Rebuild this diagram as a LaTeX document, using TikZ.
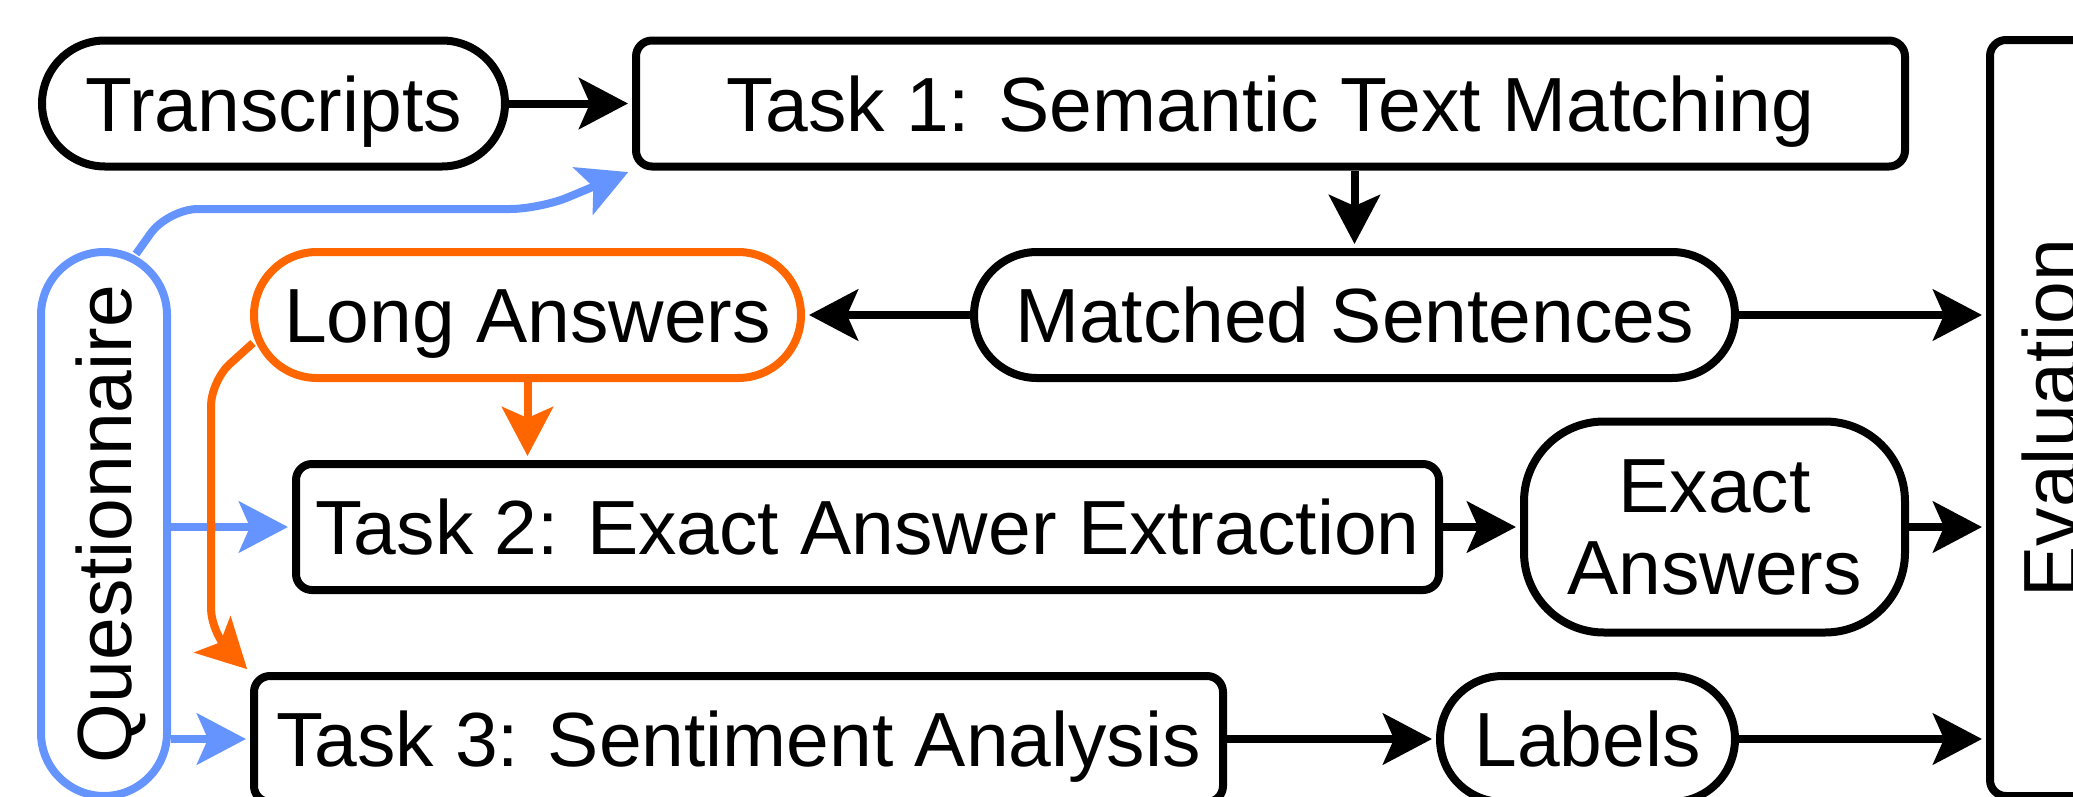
\documentclass[tikz,border=0pt]{standalone}
\usepackage{fontspec}
\setmainfont{Liberation Sans}
\usepackage{xcolor}
\usepackage{tikz}
\usetikzlibrary{arrows.meta,calc,positioning}
\definecolor{qblue}{RGB}{102,148,255}
\definecolor{lorange}{RGB}{255,102,0}
\newcommand{\figfont}{\fontsize{76.8}{82}\selectfont}
\tikzset{
  box/.style={draw,line width=8pt,inner sep=0pt,minimum height=126pt,text height=55pt,text depth=0pt},
  taskbox/.style={box,rounded corners=16pt},
  pill/.style={box,rounded corners=63pt},
  flow/.style={->,line width=8pt,shorten >=4pt},
}

\begin{document}
\begin{tikzpicture}[x=1pt,y=-1pt,font=\figfont,>={Stealth[length=49pt,width=51pt,inset=11pt]}]
\useasboundingbox (0,0) rectangle (2073,796);
\clip (0,0) rectangle (2073,796);
% inputs
\node[pill,minimum width=463pt] (trans) at (273.5,103.5) {Transcripts};
\node[pill,draw=qblue,rotate=90,minimum width=544pt] (quest) at (104,524) {Questionnaire};
% the three tasks and the evaluation
\node[taskbox,minimum width=1269pt] (task1) at (1270.5,103.5) {Task 1: Semantic Text Matching};
\node[taskbox,minimum width=1143pt] (task2) at (867.5,527) {Task 2: Exact Answer Extraction};
\node[taskbox,minimum width=969pt] (task3) at (738.5,739) {Task 3: Sentiment Analysis};
\node[taskbox,rotate=90,minimum width=756pt,minimum height=119pt] (eval) at (2049.5,418) {Evaluation};
% outputs
\node[pill,minimum width=761pt] (matched) at (1354.5,315) {Matched Sentences};
\node[pill,draw=lorange,minimum width=547pt] (long) at (527.5,315) {Long Answers};
\node[draw,line width=8pt,rounded corners=80pt,inner sep=0pt,align=center,minimum width=381pt,minimum height=211pt] (exact) at (1714.5,527) {Exact\\Answers};
\node[pill,minimum width=295pt] (labels) at (1587.5,739) {Labels};
% black flow
\draw[flow] (trans) -- (task1);
\draw[flow] (matched.north |- task1.south) -- (matched);
\draw[flow] (matched) -- (long);
\draw[flow] (matched) -- (matched -| eval.north);
\draw[flow] (task2.east) -- (task2.east -| exact.west);
\draw[flow] (exact) -- (exact -| eval.north);
\draw[flow] (task3) -- (labels);
\draw[flow] (labels) -- (labels -| eval.north);
% questionnaire feeds every task
\draw[flow,qblue] (task2.west -| quest.south) -- (task2.west);
\draw[flow,qblue] (task3.west -| quest.south) -- (task3.west);
\draw[flow,qblue,rounded corners=30pt] ([xshift=32pt,yshift=-6pt]quest.east) -- (168,209) -- (540,209) -- (task1.south west);
% long answers go to tasks 2 and 3
\draw[flow,lorange] (long) -- (long |- task2.north);
\draw[flow,lorange,rounded corners=25pt] ([xshift=3pt,yshift=-28pt]long.west) -- (211,381) -- (211,633) -- (task3.north west);
\end{tikzpicture}
\end{document}
